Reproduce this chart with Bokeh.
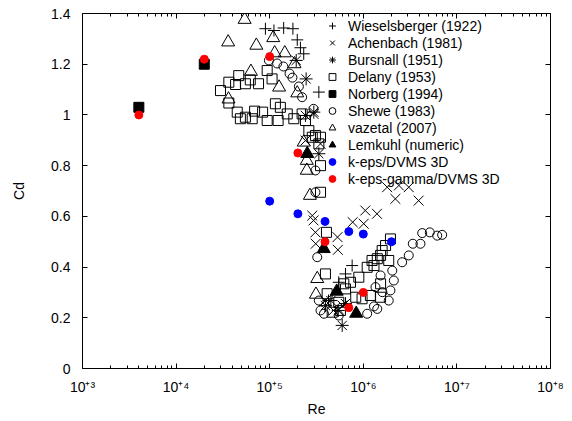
from bokeh.plotting import figure
from bokeh.models import (LogAxis, LinearAxis, FixedTicker, CustomJSTickFormatter,
                          Legend, LegendItem, Range1d)
from bokeh.embed import file_html
from bokeh.resources import INLINE

FONT = "Liberation Sans"

# ---------------- data ----------------
wies_re = [9.0e4, 1.11e5, 1.41e5, 1.77e5, 1.97e5, 2.13e5, 2.31e5, 3.35e5, 4.25e5, 5.47e5, 6.45e5, 7.6e5]
wies_cd = [1.340, 1.333, 1.343, 1.340, 1.296, 1.265, 1.241, 1.090, 0.268, 0.340, 0.373, 0.406]

ach_re = [2.41e5, 2.94e5, 3.49e5, 2.85e5, 2.94e5, 3.08e5, 3.1e5, 3.94e5, 4.8e5, 5.3e5, 5.35e5, 6.0e5,
          7.7e5, 1.01e6, 1.05e6, 1.4e6, 1.8e6, 2.2e6, 2.4e6, 3.06e6, 3.9e6]
ach_cd = [0.899, 1.004, 0.886, 0.603, 0.584, 0.537, 0.492, 0.268, 0.229, 0.518, 0.468, 0.248,
          0.577, 0.571, 0.623, 0.610, 0.715, 0.669, 0.722, 0.715, 0.662]

bur_re = [1.92e5, 2.45e5, 2.41e5, 2.96e5, 3.35e5, 3.94e5, 4.5e5, 5.4e5, 6.45e5, 5.95e5]
bur_cd = [1.215, 1.142, 0.998, 1.011, 0.847, 0.248, 0.268, 0.229, 0.256, 0.170]

del_re = [2.98e4, 3.66e4, 4.67e4, 4.32e4, 5.5e4, 6.2e4, 7.6e4, 9.4e4, 1.06e5,
          3.66e4, 4.5e4, 5.5e4, 6.9e4, 8.4e4, 9.4e4, 1.15e5, 1.30e5, 1.23e5, 1.54e5, 1.81e5,
          2.22e5, 2.41e5, 2.62e5, 2.85e5, 3.49e5, 6.5e4, 4.86e4, 3.08e5, 3.35e5, 3.49e5, 3.49e5,
          4.04e5, 3.94e5, 4.11e5, 6.19e5, 7.3e5, 8.96e5, 1.1e6, 1.24e6, 1.53e6, 1.87e6,
          8.3e5, 9.7e5, 1.19e6, 1.53e6, 1.53e6, 5.47e5, 4.65e5, 1.95e6, 1.73e6, 1.59e6,
          1.41e6, 1.3e6, 6.45e5, 5.7e5]
del_cd = [1.096, 1.129, 1.155, 1.120, 1.123, 1.138, 1.123, 1.175, 1.142,
          1.047, 1.011, 0.991, 1.015, 1.011, 0.978, 1.044, 1.030, 0.978, 1.004, 0.985,
          1.004, 0.978, 0.938, 0.912, 0.912, 0.985, 0.985, 0.919, 0.886, 0.800, 0.695,
          0.537, 0.373, 0.295, 0.334, 0.340, 0.360, 0.399, 0.426, 0.446, 0.426,
          0.281, 0.275, 0.288, 0.334, 0.281, 0.261, 0.222, 0.511, 0.485, 0.465,
          0.433, 0.406, 0.314, 0.229]

nor_re = [4.0e3, 2.0e4]
nor_cd = [1.03, 1.20]

she_re = [9.8e4, 1.2e5, 1.4e5, 1.63e5, 1.75e5, 2.05e5, 2.22e5, 2.94e5, 3.08e5, 3.08e5, 3.22e5,
          3.35e5, 3.49e5, 3.8e5, 5.47e5, 1.1e6, 1.3e6, 1.41e6, 1.87e6, 1.95e6, 1.35e6, 1.6e6,
          1.53e6, 2.12e6, 2.04e6, 2.6e6, 3.06e6, 3.38e6, 4.08e6, 4.26e6, 5.13e6, 6.16e6, 6.96e6]
she_cd = [1.215, 1.203, 1.191, 1.163, 1.147, 1.112, 1.070, 1.024, 0.781, 0.695, 0.439,
          0.268, 0.229, 0.216, 0.209, 0.216, 0.245, 0.235, 0.268, 0.308, 0.321, 0.301,
          0.367, 0.347, 0.386, 0.419, 0.446, 0.492, 0.492, 0.534, 0.537, 0.524, 0.527]

vaz_re = [5.4e4, 3.6e4, 7.2e4, 1.09e5, 1.45e5, 1.13e5, 1.84e5, 6.3e4, 1.26e5, 3.63e4, 1.97e5,
          2.31e5, 2.49e5, 2.49e5, 2.69e5, 3.22e5, 3.12e5]
vaz_cd = [1.376, 1.287, 1.274, 1.304, 1.244, 1.244, 1.201, 1.171, 1.109, 1.062, 1.086,
          0.892, 0.820, 0.781, 0.682, 0.354, 0.292]

lem_re = [2.52e5, 3.78e5, 5.2e5, 8.4e5]
lem_cd = [0.847, 0.472, 0.304, 0.217]

keps_re = [1e5, 2e5, 3.9e5, 7e5, 1e6, 2e6]
keps_cd = [0.66, 0.61, 0.58, 0.54, 0.53, 0.50]

kegam_re = [4e3, 2e4, 1e5, 2e5, 3.9e5, 7e5, 1e6]
kegam_cd = [1.00, 1.22, 1.23, 0.85, 0.50, 0.24, 0.30]

labels = ["Wieselsberger (1922)", "Achenbach (1981)", "Bursnall (1951)", "Delany (1953)",
          "Norberg (1994)", "Shewe (1983)", "vazetal (2007)", "Lemkuhl (numeric)",
          "k-eps/DVMS 3D", "k-eps-gamma/DVMS 3D"]

xtick_vals = [1e3, 1e4, 1e5, 1e6, 1e7, 1e8]
xtick_text = ["10\u207a\u00b3", "10\u207a\u2074", "10\u207a\u2075",
              "10\u207a\u2076", "10\u207a\u2077", "10\u207a\u2078"]
ytick_vals = [0, 0.2, 0.4, 0.6, 0.8, 1.0, 1.2, 1.4]

# ---------------- figure ----------------
p = figure(width=564, height=419, x_axis_type="log",
           x_range=Range1d(1e3, 1e8), y_range=Range1d(0, 1.4),
           output_backend="svg", toolbar_location=None,
           min_border_left=82, min_border_right=14, min_border_top=13, min_border_bottom=51)
p.grid.visible = False
p.outline_line_color = "black"
p.outline_line_width = 1
p.outline_line_alpha = 1
p.background_fill_color = "white"
p.border_fill_color = "white"

xticker = FixedTicker(ticks=xtick_vals,
                      minor_ticks=[m * d for d in xtick_vals[:-1] for m in range(2, 10)])
yticker = FixedTicker(ticks=ytick_vals)
empty = CustomJSTickFormatter(code="return ''")

xa = p.xaxis[0]
xa.ticker = xticker
xa.major_label_overrides = {v: t for v, t in zip(xtick_vals, xtick_text)}
xa.major_label_text_font = FONT
xa.major_label_text_font_size = "14px"
xa.major_label_text_color = "black"
xa.major_label_standoff = 10
xa.major_tick_in = 5
xa.major_tick_out = 0
xa.minor_tick_in = 3
xa.minor_tick_out = 0
xa.axis_line_color = None
xa.axis_label = "Re"
xa.axis_label_text_font = FONT
xa.axis_label_text_font_size = "14px"
xa.axis_label_text_font_style = "normal"
xa.axis_label_text_color = "black"
xa.axis_label_standoff = 3

ya = p.yaxis[0]
ya.ticker = yticker
ya.formatter = CustomJSTickFormatter(code="return String(Math.round(tick*10)/10)")
ya.major_tick_in = 5
ya.major_tick_out = 0
ya.minor_tick_line_color = None
ya.axis_line_color = None
ya.major_label_standoff = 12
ya.major_label_text_font = FONT
ya.major_label_text_font_size = "14px"
ya.major_label_text_color = "black"
ya.axis_label = "Cd"
ya.axis_label_text_font = FONT
ya.axis_label_text_font_size = "14px"
ya.axis_label_text_font_style = "normal"
ya.axis_label_text_color = "black"
ya.axis_label_standoff = 21

top = LogAxis(ticker=xticker, formatter=empty, major_tick_in=5, major_tick_out=0,
              minor_tick_in=3, minor_tick_out=0, axis_line_color=None,
              major_label_standoff=0, major_label_text_font_size="0px")
p.add_layout(top, "above")
right = LinearAxis(ticker=yticker, formatter=empty, major_tick_in=5, major_tick_out=0,
                   minor_tick_line_color=None, axis_line_color=None,
                   major_label_standoff=0, major_label_text_font_size="0px")
p.add_layout(right, "right")

# ---------------- series ----------------
lw = 1
r1 = p.scatter(wies_re, wies_cd, marker="cross", size=12, line_color="black", line_width=lw)
r2 = p.scatter(ach_re, ach_cd, marker="x", size=14, line_color="black", line_width=lw)
r3 = p.scatter(bur_re, bur_cd, marker="asterisk", size=13, line_color="black", line_width=lw)
r4 = p.scatter(del_re, del_cd, marker="square", size=10, line_color="black", fill_color=None, line_width=lw)
r5 = p.scatter(nor_re, nor_cd, marker="square", size=10, line_color="black", fill_color="black", line_width=lw)
r6 = p.scatter(she_re, she_cd, marker="circle", size=9, line_color="black", fill_color=None, line_width=lw)
r7 = p.scatter(vaz_re, vaz_cd, marker="triangle", size=13, line_color="black", fill_color=None, line_width=lw)
r8 = p.scatter(lem_re, lem_cd, marker="triangle", size=13, line_color="black", fill_color="black", line_width=lw)
r9 = p.scatter(keps_re, keps_cd, marker="circle", size=8, line_color="blue", fill_color="blue")
r10 = p.scatter(kegam_re, kegam_cd, marker="circle", size=8, line_color="red", fill_color="red")

renderers = [r1, r2, r3, r4, r5, r6, r7, r8, r9, r10]
legend = Legend(items=[LegendItem(label=l, renderers=[r]) for l, r in zip(labels, renderers)],
                location=(240, 181), orientation="vertical",
                label_text_font=FONT, label_text_font_size="14px", label_text_color="black",
                glyph_width=20, glyph_height=17, label_height=17, spacing=0, padding=0, margin=0,
                label_standoff=6, border_line_color=None, background_fill_alpha=0)
p.add_layout(legend)

open("out.html", "w").write(file_html(p, INLINE))
